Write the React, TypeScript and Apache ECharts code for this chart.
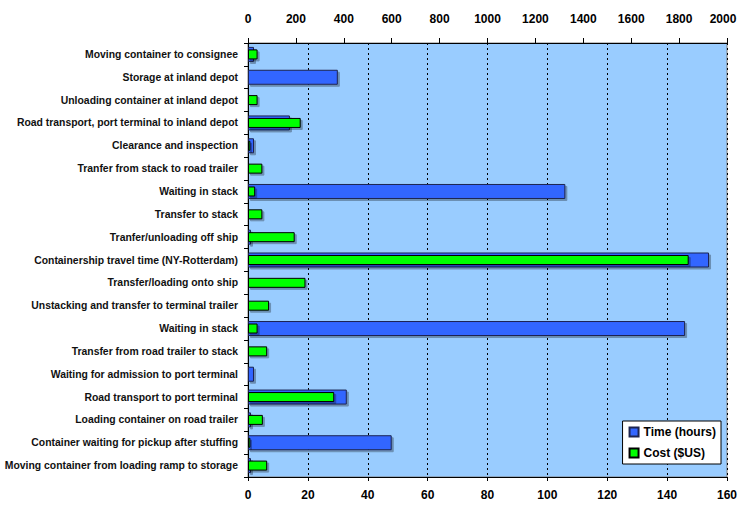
import React, { useEffect, useRef } from "react";
import * as echarts from "echarts";

// Activities, listed top to bottom as they appear on the chart
const activities = [
  "Moving container to consignee",
  "Storage at inland depot",
  "Unloading container at inland depot",
  "Road transport, port terminal to inland depot",
  "Clearance and inspection",
  "Tranfer from stack to road trailer",
  "Waiting in stack",
  "Transfer to stack",
  "Tranfer/unloading off ship",
  "Containership travel time (NY-Rotterdam)",
  "Transfer/loading onto ship",
  "Unstacking and transfer to terminal trailer",
  "Waiting in stack",
  "Transfer from road trailer to stack",
  "Waiting for admission to port terminal",
  "Road transport to port terminal",
  "Loading container on road trailer",
  "Container waiting for pickup after stuffing",
  "Moving container from loading ramp to storage",
];

// Time per activity (hours) — bottom axis
const timeHours = [2, 30, 0, 14, 2, 0, 106, 0, 1, 154, 0, 0, 146, 0, 2, 33, 1, 48, 1];

// Cost per activity (US dollars) — top axis
const costUSD = [40, 0, 40, 220, 10, 60, 30, 60, 195, 1840, 240, 88, 40, 80, 0, 360, 62, 10, 80];

const TIME_MAX = 160;
const TIME_STEP = 20;
const COST_MAX = 2000;
const COST_STEP = 200;

const LABEL_FONT = "'Liberation Sans', Arial, sans-serif";

export default function App() {
  const ref = useRef<HTMLDivElement>(null);

  useEffect(() => {
    if (!ref.current) return;
    const chart = echarts.init(ref.current, null, { renderer: "svg" });

    const categoryAxis = (show: boolean) => ({
      type: "category" as const,
      data: activities,
      inverse: true,
      show,
      axisLine: { show: true, lineStyle: { color: "#000", width: 1 } },
      axisTick: { show: true, length: 4, alignWithLabel: false, lineStyle: { color: "#000" } },
      axisLabel: {
        margin: 10,
        color: "#111",
        fontFamily: LABEL_FONT,
        fontWeight: "bold" as const,
        fontSize: 10.4,
      },
    });

    const plainNumber = (v: number) => String(v);
    // The last cost label sits on the right edge; nudge it inward a little
    const costLabel = (v: number) => (v === COST_MAX ? `{edge|${v}}` : String(v));

    const tickFont = {
      color: "#000",
      fontFamily: LABEL_FONT,
      fontWeight: "bold" as const,
      fontSize: 12,
    };

    chart.setOption({
      animation: false,
      backgroundColor: "#ffffff",
      grid: {
        left: 248,
        right: 11,
        top: 43,
        bottom: 29,
        outerBoundsMode: "none",
        containLabel: false,
        show: true,
        backgroundColor: "#99CCFF",
        borderColor: "#808080",
        borderWidth: 1,
      },
      legend: {
        orient: "vertical",
        right: 17,
        top: 421,
        backgroundColor: "#ffffff",
        borderColor: "#000",
        borderWidth: 1,
        borderRadius: 0,
        padding: [5, 5, 5, 6],
        itemWidth: 9,
        itemHeight: 9,
        itemGap: 9,
        icon: "rect",
        textStyle: {
          fontFamily: LABEL_FONT,
          fontWeight: "bold",
          fontSize: 12,
          color: "#000",
        },
        data: ["Time (hours)", "Cost ($US)"],
      },
      xAxis: [
        {
          type: "value",
          position: "bottom",
          min: 0,
          max: TIME_MAX,
          interval: TIME_STEP,
          axisLine: { show: true, lineStyle: { color: "#000" } },
          axisTick: { show: true, length: 4, lineStyle: { color: "#000" } },
          axisLabel: {
            ...tickFont,
            margin: 12,
            formatter: plainNumber,
          },
          splitLine: {
            show: true,
            lineStyle: { color: "#000", type: [2, 3], width: 1 },
          },
        },
        {
          type: "value",
          position: "top",
          min: 0,
          max: COST_MAX,
          interval: COST_STEP,
          axisLine: { show: true, lineStyle: { color: "#000" } },
          axisTick: { show: true, length: 5, lineStyle: { color: "#000" } },
          axisLabel: {
            ...tickFont,
            margin: 18,
            formatter: costLabel,
            rich: {
              edge: { ...tickFont, padding: [0, 8, 0, 0] },
            },
          },
          splitLine: { show: false },
        },
      ],
      yAxis: [categoryAxis(true), categoryAxis(false)],
      series: [
        {
          name: "Time (hours)",
          type: "bar",
          xAxisIndex: 0,
          yAxisIndex: 0,
          data: timeHours,
          barWidth: 15,
          itemStyle: {
            color: "#3366FF",
            borderColor: "#1c2450",
            borderWidth: 1,
            shadowColor: "rgba(0,0,0,0.3)",
            shadowOffsetX: 2,
            shadowOffsetY: 2,
            shadowBlur: 1,
          },
          z: 2,
        },
        {
          name: "Cost ($US)",
          type: "bar",
          xAxisIndex: 1,
          yAxisIndex: 1,
          data: costUSD,
          barWidth: 10,
          itemStyle: {
            color: "#00FF00",
            borderColor: "#000",
            borderWidth: 1,
            shadowColor: "rgba(0,0,0,0.3)",
            shadowOffsetX: 2,
            shadowOffsetY: 2,
            shadowBlur: 1,
          },
          z: 3,
        },
      ],
    });

    return () => chart.dispose();
  }, []);

  return (
    <div
      ref={ref}
      style={{ position: "absolute", left: 0, top: 0, width: 738, height: 506 }}
    />
  );
}
